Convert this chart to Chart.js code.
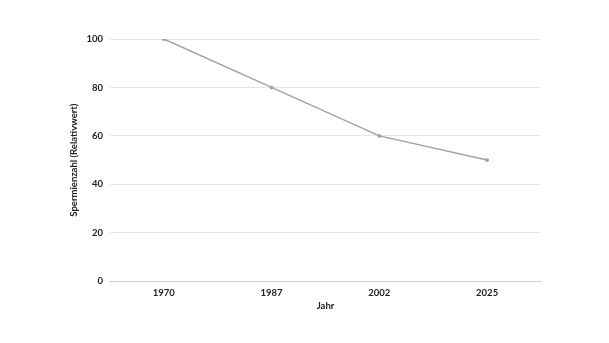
<!DOCTYPE html>
<html>
<head>
<meta charset="utf-8">
<script src="https://cdn.jsdelivr.net/npm/chart.js@4/dist/chart.umd.min.js"></script>
<style>
  html, body { margin: 0; padding: 0; background: #fff; }
  #wrap { width: 609px; height: 343px; }
</style>
</head>
<body>
<div id="wrap"><canvas id="chart" width="609" height="343"></canvas></div>
<script>
// Data
const years = ['1970', '1987', '2002', '2025'];
const spermCount = [100, 80, 60, 50];
const yTicks = [0, 20, 40, 60, 80, 100];

const fontFamily = "Lato, sans-serif";
const tickFont = { family: fontFamily, size: 9.5, weight: 'bold' };

const ctx = document.getElementById('chart').getContext('2d');
new Chart(ctx, {
  type: 'line',
  data: {
    labels: years,
    datasets: [
      {
        label: 'Spermienzahl',
        data: spermCount,
        borderColor: '#a3a3a3',
        backgroundColor: '#a3a3a3',
        borderWidth: 1.5,
        pointRadius: 1.2,
        pointHoverRadius: 1.2,
        tension: 0,
      },
    ],
  },
  options: {
    responsive: false,
    animation: false,
    layout: {
      padding: { left: 68, right: 68, top: 39, bottom: 31 },
    },
    plugins: {
      legend: { display: false },
      tooltip: { enabled: false },
    },
    scales: {
      x: {
        offset: true,
        grid: { display: false, drawTicks: false },
        border: { color: '#d0d0d0' },
        ticks: {
          color: '#222',
          padding: 6,
          font: tickFont,
        },
        title: {
          display: true,
          text: 'Jahr',
          color: '#222',
          padding: { top: -4, bottom: 0 },
          font: tickFont,
        },
      },
      y: {
        min: 0,
        max: 100,
        afterBuildTicks: axis => {
          axis.ticks = yTicks.map(v => ({ value: v }));
        },
        grid: { color: '#e6e6e6', drawTicks: false },
        border: { display: false },
        ticks: {
          color: '#222',
          padding: 7,
          font: tickFont,
        },
        title: {
          display: true,
          text: 'Spermienzahl (Relativwert)',
          color: '#222',
          padding: { top: 0, bottom: 0 },
          font: tickFont,
        },
      },
    },
  },
});
</script>
</body>
</html>
